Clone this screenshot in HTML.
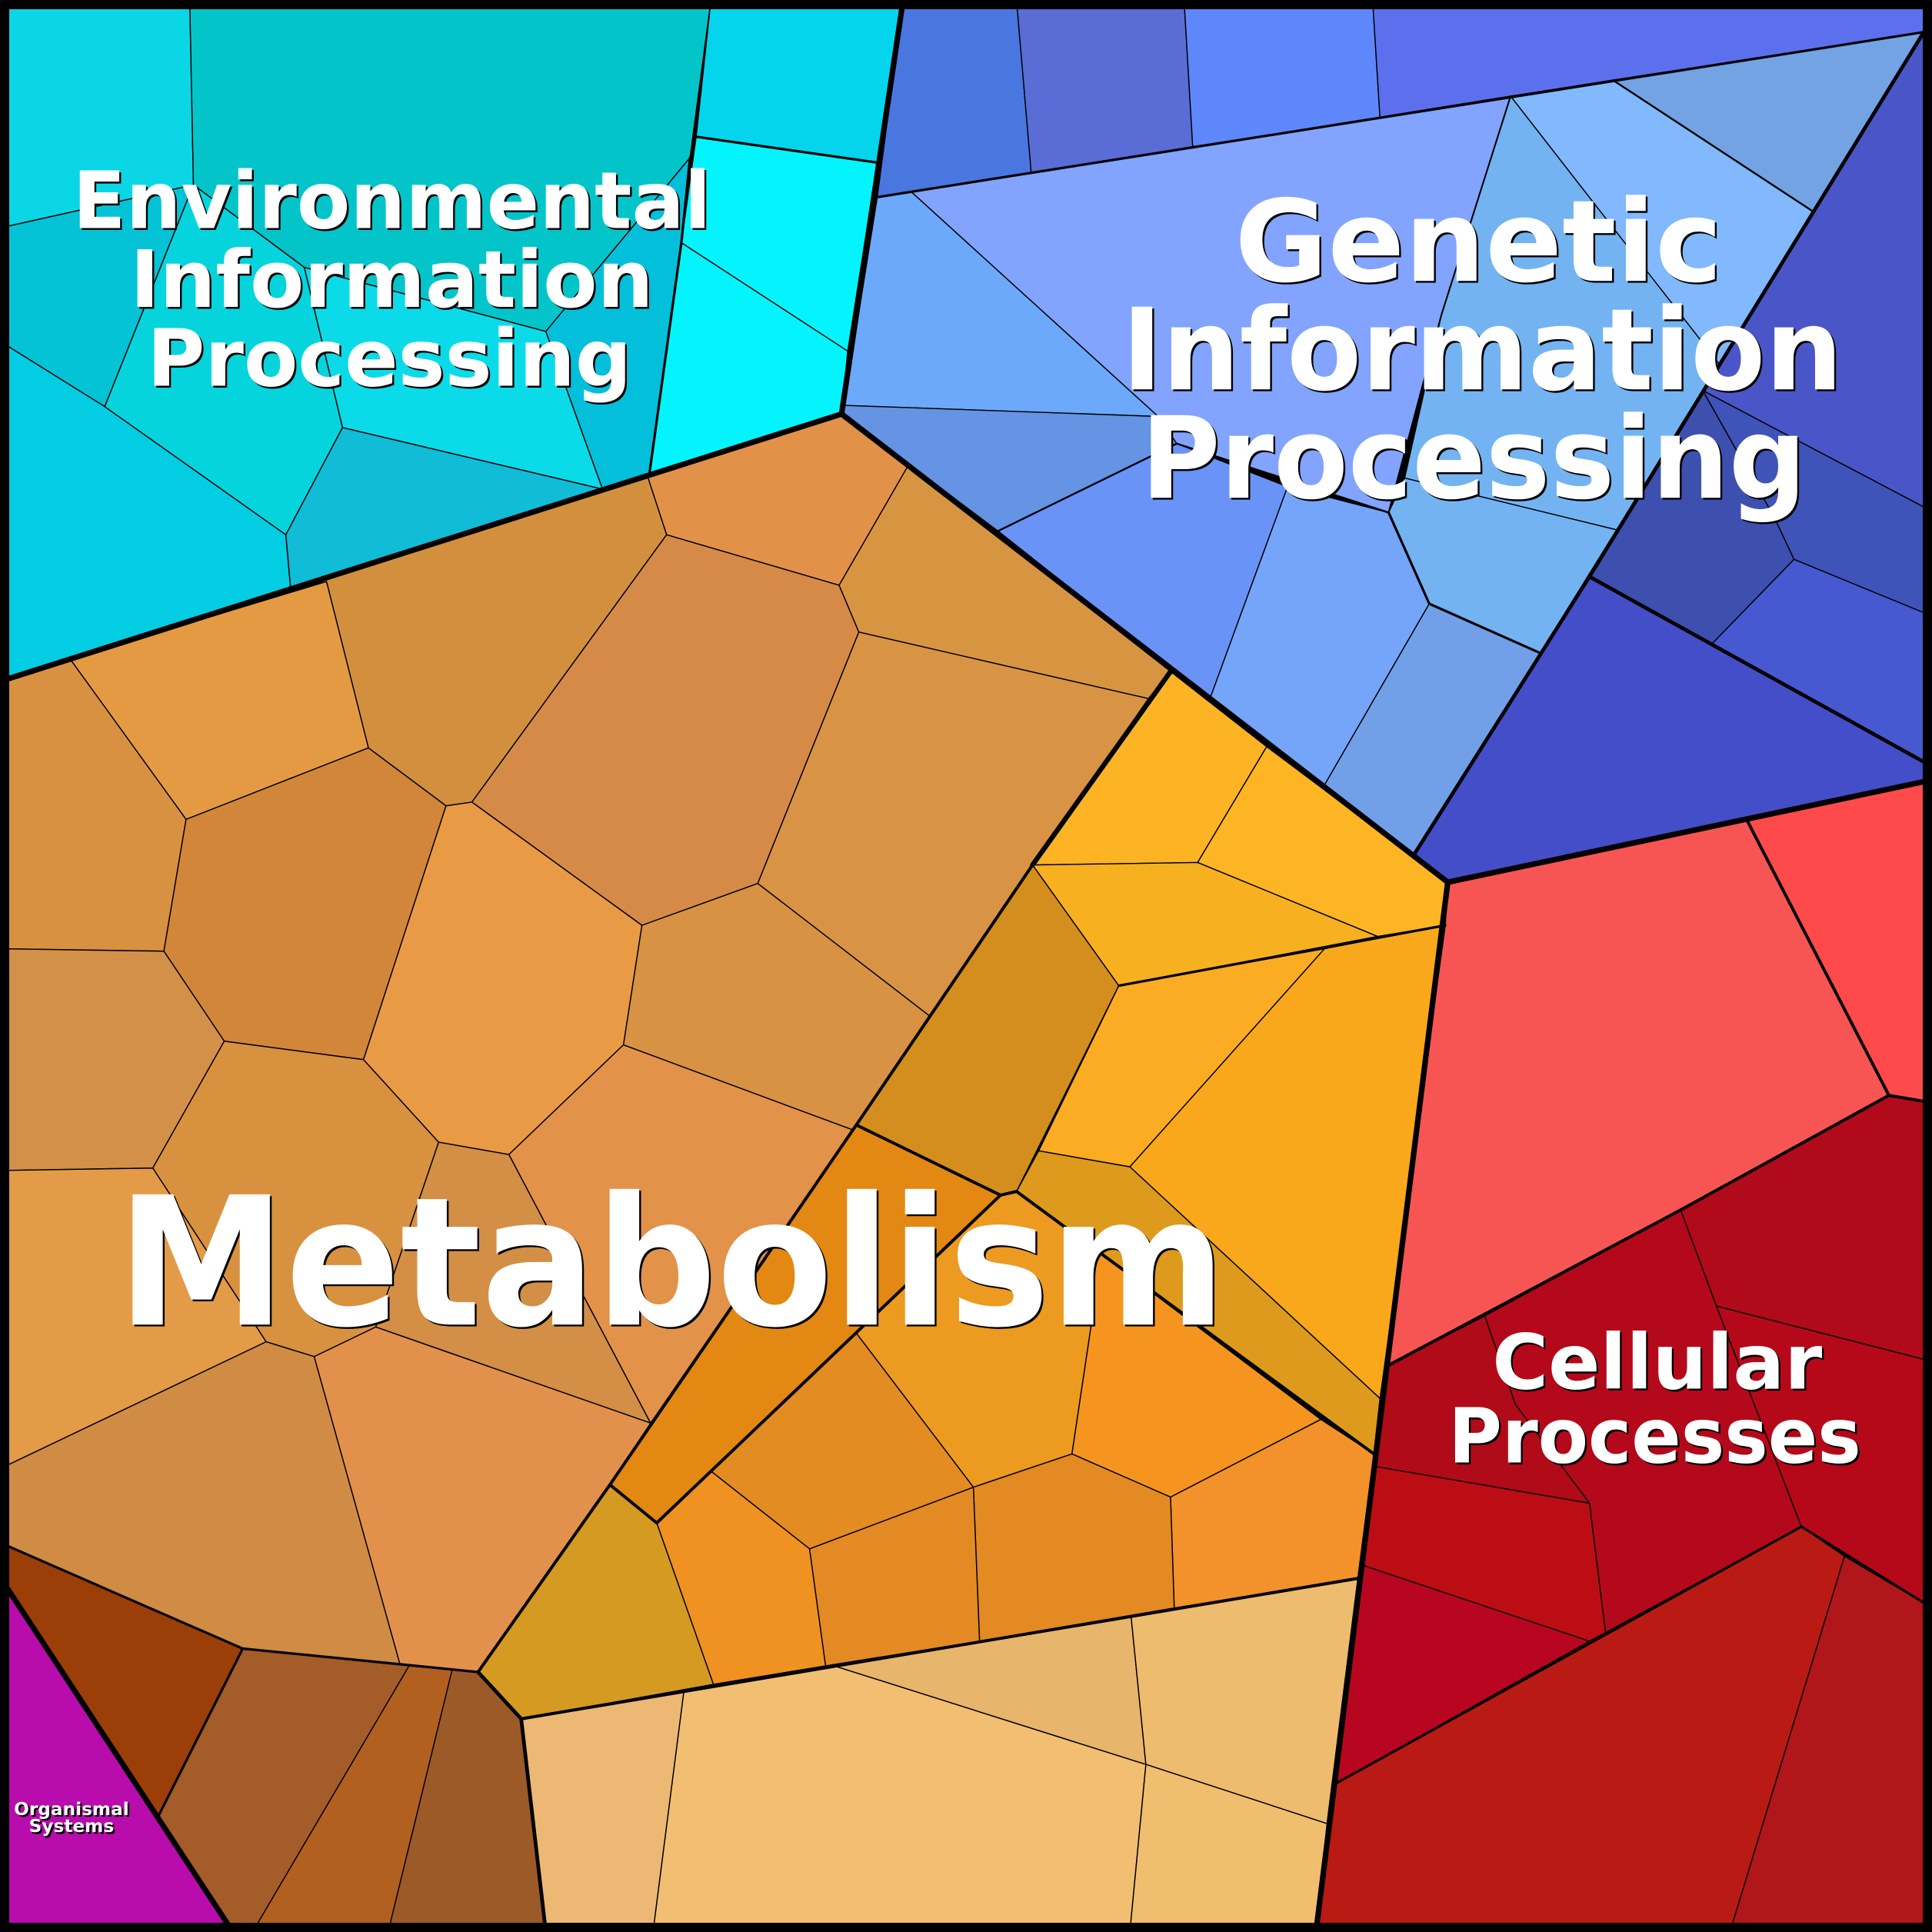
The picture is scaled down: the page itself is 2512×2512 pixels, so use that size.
<!DOCTYPE html>
<html><head><meta charset="utf-8"><style>html,body{margin:0;padding:0;background:#000}svg{display:block}</style></head>
<body>
<svg xmlns="http://www.w3.org/2000/svg" width="2512" height="2512" viewBox="0 0 1568 1568">
<g stroke="#000" stroke-width="0.9" stroke-linejoin="round">
<!-- Environmental -->
<polygon fill="#0ad6e6" points="0,0 154,0 157,150 0,185"/>
<polygon fill="#03c5c9" points="154,0 577,0 560,128 443,269 247,217 157,150"/>
<polygon fill="#05c3d6" points="0,185 157,150 85,330 0,277"/>
<polygon fill="#03cde3" points="0,277 85,330 232,434 236,479 0,553"/>
<polygon fill="#05d4dc" points="85,330 157,150 247,217 278,347 232,434"/>
<polygon fill="#0bdbe8" points="247,217 443,269 489,397 278,347"/>
<polygon fill="#10bcd6" points="278,347 489,397 236,479 232,434"/>
<polygon fill="#03bfda" points="443,269 560,128 553,197 527,385 489,397"/>
<polygon fill="#04d5ec" points="577,0 733,0 712,132 565,111"/>
<polygon fill="#04f4fd" points="565,111 712,132 688,285 553,197"/>
<polygon fill="#04f4fd" points="553,197 688,285 683,336 527,385"/>
<!-- Genetic -->
<polygon fill="#4a77df" points="733,0 825,0 837,141 712,160"/>
<polygon fill="#5a6cd6" points="825,0 961,0 968,119 837,141"/>
<polygon fill="#5f87fc" points="961,0 1114,0 1120,96 968,119"/>
<polygon fill="#5c70ee" points="1114,0 1568,0 1568,25 1120,96"/>
<polygon fill="#6ca9fb" points="712,160 740,156 940,338 685,329"/>
<polygon fill="#82a4fe" points="740,156 1226,78 1170,255 1127,416 955,360 940,338"/>
<polygon fill="#74b3f2" points="1226,78 1395,295 1312,430 1140,388 1170,255"/>
<polygon fill="#82b8fd" points="1226,78 1309,65 1472,172 1395,295"/>
<polygon fill="#74a3e3" points="1309,65 1568,25 1472,172"/>
<polygon fill="#6494e3" points="683,336 685,329 940,338 955,360 810,431"/>
<polygon fill="#6a93f8" points="810,431 955,360 1045,395 982,567"/>
<polygon fill="#75a5f8" points="1045,395 1127,416 1160,490 1075,637 982,567"/>
<polygon fill="#72a0e8" points="1160,490 1250,530 1148,693 1075,637"/>
<polygon fill="#74b3f2" points="1127,416 1140,388 1312,430 1250,530 1160,490"/>
<polygon fill="#4a56c8" points="1562,25 1568,25 1568,415 1382,317"/>
<polygon fill="#3f54b8" points="1382,317 1568,415 1568,500 1456,454 1440,420"/>
<polygon fill="#3d50b0" points="1382,317 1440,420 1456,454 1389,523 1290,468"/>
<polygon fill="#4659d0" points="1456,454 1568,500 1568,622 1389,523"/>
<polygon fill="#444ec8" points="1290,468 1568,622 1568,633 1175,716 1148,693"/>
<!-- Cellular -->
<polygon fill="#f75553" points="1175,716 1418,666 1533,889 1364,982 1205,1068 1127,1108"/>
<polygon fill="#fe4a4a" points="1418,666 1568,633 1568,895 1533,889"/>
<polygon fill="#b10a1a" points="1533,889 1568,895 1568,1105 1393,1060 1364,982"/>
<polygon fill="#b4091a" points="1364,982 1393,1060 1462,1239 1303,1325 1290,1220 1230,1140 1205,1068"/>
<polygon fill="#b5091a" points="1393,1060 1568,1105 1568,1305 1462,1239"/>
<polygon fill="#b10a18" points="1205,1068 1230,1140 1290,1220 1115,1190 1127,1108"/>
<polygon fill="#bc0d15" points="1115,1190 1290,1220 1303,1325 1290,1332 1105,1270"/>
<polygon fill="#b80520" points="1105,1270 1290,1332 1085,1447"/>
<polygon fill="#ba1a14" points="1085,1447 1290,1332 1303,1325 1462,1239 1497,1263 1404,1568 1068,1568"/>
<polygon fill="#b0161a" points="1497,1263 1568,1305 1568,1568 1404,1568"/>
<!-- Metabolism left -->
<polygon fill="#e29148" points="525,385 683,336 737,378 681,475 541,434"/>
<polygon fill="#d89541" points="737,378 950,545 932,567 697,513 681,475"/>
<polygon fill="#d2903f" points="236,479 525,385 541,434 383,651 362,654 299,607 265,472"/>
<polygon fill="#e49a43" points="57,535 265,472 299,607 151,665"/>
<polygon fill="#d89141" points="0,553 57,535 151,665 133,772 0,770"/>
<polygon fill="#d68a48" points="541,434 681,475 697,513 615,717 521,751 383,651"/>
<polygon fill="#d89345" points="697,513 932,567 755,825 615,717"/>
<polygon fill="#d1863a" points="151,665 299,607 362,654 295,860 182,845 133,772"/>
<polygon fill="#e99a45" points="362,654 383,651 521,751 506,848 413,937 356,927 295,860"/>
<polygon fill="#d79244" points="521,751 615,717 755,825 692,917 506,848"/>
<polygon fill="#d39048" points="0,770 133,772 182,845 124,948 0,950"/>
<polygon fill="#d8913f" points="182,845 295,860 356,927 305,1077 255,1101 216,1089 124,948"/>
<polygon fill="#e39249" points="506,848 692,917 528,1155 413,937"/>
<polygon fill="#d38f45" points="356,927 413,937 528,1155 305,1077"/>
<polygon fill="#e49b47" points="0,950 124,948 216,1089 0,1192"/>
<polygon fill="#d08b45" points="0,1192 216,1089 255,1101 325,1352 197,1338 0,1252"/>
<polygon fill="#e2914c" points="255,1101 305,1077 528,1155 495,1205 388,1357 325,1352"/>
<polygon fill="#9c3e07" points="0,1252 197,1338 128,1475 0,1280"/>
<polygon fill="#a45c28" points="197,1338 332,1352 205,1568 189,1568 128,1475"/>
<polygon fill="#b26020" points="332,1352 367,1355 315,1568 205,1568"/>
<polygon fill="#9c5a28" points="367,1355 388,1357 423,1395 443,1568 315,1568"/>
<polygon fill="#b80cac" points="0,1280 189,1568 0,1568"/>
<!-- Metabolism yellow/orange -->
<polygon fill="#fdb424" points="950,545 1028,606 972,700 838,702"/>
<polygon fill="#fdb524" points="1028,606 1175,716 1173,751 1118,760 972,700"/>
<polygon fill="#f7b020" points="838,702 972,700 1118,760 908,800"/>
<polygon fill="#d48e1d" points="838,702 908,800 825,967 812,970 695,913"/>
<polygon fill="#fbac22" points="908,800 1075,770 917,947 843,934"/>
<polygon fill="#f8a81a" points="1075,770 1173,751 1120,1135 917,947"/>
<polygon fill="#dd9a1c" points="843,934 917,947 1120,1135 1115,1180 825,967"/>
<polygon fill="#e38812" points="695,913 812,970 533,1236 495,1205"/>
<polygon fill="#ec9a20" points="695,1082 812,970 825,967 886,1012 886,1073 870,1180 790,1207"/>
<polygon fill="#f5951f" points="886,1012 1072,1152 950,1215 870,1180 886,1073"/>
<polygon fill="#f3922a" points="1072,1152 1115,1180 1102,1281 953,1305 950,1215"/>
<polygon fill="#e38a22" points="870,1180 950,1215 953,1305 795,1332 790,1207"/>
<polygon fill="#e48a24" points="657,1257 790,1207 795,1332 670,1352"/>
<polygon fill="#e38c22" points="577,1194 695,1082 790,1207 657,1257"/>
<polygon fill="#ef9222" points="533,1236 577,1194 657,1257 670,1352 579,1367"/>
<polygon fill="#d49a22" points="495,1205 533,1236 579,1367 423,1395 388,1357"/>
<!-- bottom tan -->
<polygon fill="#ecb874" points="423,1395 555,1373 530,1568 443,1568"/>
<polygon fill="#f2be72" points="555,1373 677,1352 930,1432 917,1568 530,1568"/>
<polygon fill="#e8b56c" points="677,1352 918,1312 930,1432"/>
<polygon fill="#eebc6e" points="918,1312 1102,1281 1077,1480 930,1432"/>
<polygon fill="#efbe6e" points="930,1432 1077,1480 1068,1568 917,1568"/>
</g>
<!-- group boundaries -->
<g stroke="#000" fill="none" stroke-linejoin="round" stroke-linecap="round">
<polyline stroke-width="1.3" points="1226,78 1170,255 1127,416"/>
<polyline stroke-width="2" points="1127,416 1160,490 1250,530"/>
<polyline stroke-width="1.5" points="1309,65 1472,172"/>
<polyline stroke-width="1.5" points="810,431 955,360 1127,416"/>
<polyline stroke-width="2" points="712,160 1568,25"/>
<polyline stroke-width="2" points="560,128 553,197 527,385"/>
<polyline stroke-width="2" points="565,111 712,132"/>
<polyline stroke-width="2" points="0,1252 197,1338 388,1357"/>
<polyline stroke-width="2" points="128,1475 197,1338"/>
<polyline stroke-width="2.5" points="838,702 695,913 495,1205 388,1357"/>
<polyline stroke-width="2.5" points="695,913 812,970 825,967 1115,1180"/>
<polyline stroke-width="2.5" points="812,970 533,1236 495,1205"/>
<polyline stroke-width="2.5" points="423,1395 1102,1281"/>
<polyline stroke-width="2" points="1173,751 908,800"/>
<polyline stroke-width="2.5" points="1127,1108 1364,982 1533,889 1568,895"/>
<polyline stroke-width="2.5" points="1418,666 1533,889"/>
<polyline stroke-width="2" points="1085,1447 1462,1239 1568,1305"/>
<polyline stroke-width="3" points="1562,25 1290,468 1148,693"/>
<polyline stroke-width="3" points="1290,468 1568,622"/>
<polyline stroke-width="4.5" points="0,553 683,336 733,0"/>
<polyline stroke-width="4.5" points="683,336 1175,716 1568,633"/>
<polyline stroke-width="4.5" points="1175,716 1068,1568"/>
<polyline stroke-width="4" points="950,545 838,702"/>
<polyline stroke-width="4.5" points="0,1280 189,1568"/>
<polyline stroke-width="3" points="388,1357 423,1395 443,1568"/>
<rect x="3.5" y="3.5" width="1561" height="1561" stroke-width="8"/>
</g>
<g font-family="DejaVu Sans, Liberation Sans, sans-serif" font-weight="bold" text-anchor="middle">
<g fill="#000" transform="translate(1.5,1.5)">
<text x="318" y="185" font-size="64" textLength="518" lengthAdjust="spacingAndGlyphs">Environmental</text>
<text x="318" y="249" font-size="64">Information</text>
<text x="316" y="313" font-size="64">Processing</text>
<text x="1200" y="228" font-size="92">Genetic</text>
<text x="1203" y="316" font-size="92" textLength="585" lengthAdjust="spacingAndGlyphs">Information</text>
<text x="1196" y="404" font-size="92" textLength="540" lengthAdjust="spacingAndGlyphs">Processing</text>
<text x="545" y="1075" font-size="145" textLength="900" lengthAdjust="spacingAndGlyphs">Metabolism</text>
<text x="1345" y="1127" font-size="62">Cellular</text>
<text x="1343" y="1187" font-size="62" textLength="335" lengthAdjust="spacingAndGlyphs">Processes</text>
<text x="58" y="1473" font-size="14.5">Organismal</text>
<text x="58" y="1487" font-size="14.5">Systems</text>
</g>
<g fill="#fff">
<text x="318" y="185" font-size="64" textLength="518" lengthAdjust="spacingAndGlyphs">Environmental</text>
<text x="318" y="249" font-size="64">Information</text>
<text x="316" y="313" font-size="64">Processing</text>
<text x="1200" y="228" font-size="92">Genetic</text>
<text x="1203" y="316" font-size="92" textLength="585" lengthAdjust="spacingAndGlyphs">Information</text>
<text x="1196" y="404" font-size="92" textLength="540" lengthAdjust="spacingAndGlyphs">Processing</text>
<text x="545" y="1075" font-size="145" textLength="900" lengthAdjust="spacingAndGlyphs">Metabolism</text>
<text x="1345" y="1127" font-size="62">Cellular</text>
<text x="1343" y="1187" font-size="62" textLength="335" lengthAdjust="spacingAndGlyphs">Processes</text>
<text x="58" y="1473" font-size="14.5">Organismal</text>
<text x="58" y="1487" font-size="14.5">Systems</text>
</g>
</g>
</svg>
</body></html>
